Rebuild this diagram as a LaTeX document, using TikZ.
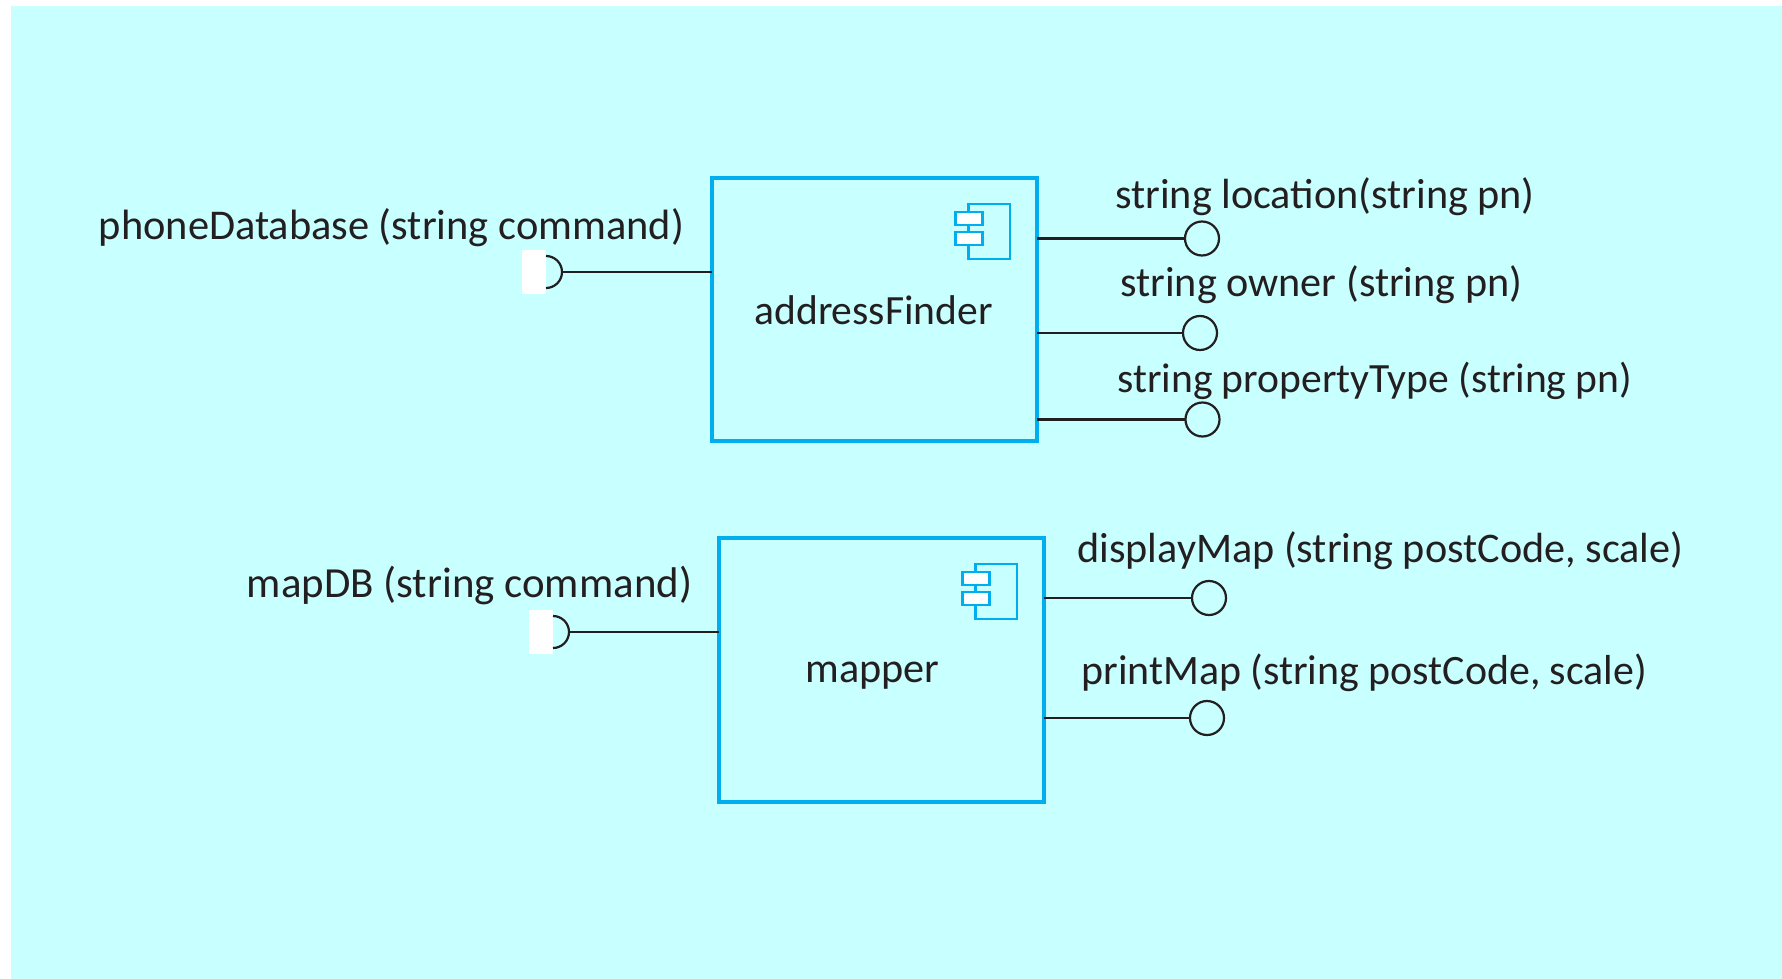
\documentclass[tikz,border=0pt]{standalone}
\usepackage{fontspec}
\setmainfont{Carlito}
\definecolor{bgc}{HTML}{C8FFFF}
\definecolor{boxc}{HTML}{00AEEF}
\definecolor{ink}{HTML}{231F20}
\tikzset{
  comp/.style={draw=boxc,line width=2.2pt,rectangle,inner sep=0pt,outer sep=0pt,anchor=north west},
  lab/.style={anchor=base west,inner sep=0pt,text=ink,font=\fontsize{#1}{25}\selectfont},
  lab/.default=21.1,
  prov/.style={circle,draw=ink,line width=1.1pt,minimum size=17pt,inner sep=0pt,outer sep=0pt},
  conn/.style={draw=ink,line width=1.1pt},
  sock/.style={rectangle,fill=white,minimum width=12pt,minimum height=22pt,inner sep=0pt},
  sockarc/.style={draw=ink,line width=1.1pt},
  icon/.style={draw=boxc,line width=1.1pt},
  iconbar/.style={draw=boxc,fill=white,line width=1.1pt,rectangle,minimum width=13.5pt,minimum height=6.5pt,inner sep=0pt}
}
\newcommand{\compicon}[2]{%
  \draw[icon] (#1+968.5,#2+204) rectangle (#1+1010,#2+259);
  \node[iconbar] at (#1+969,#2+218.3) {};
  \node[iconbar] at (#1+969,#2+238.3) {};
}
\begin{document}
\begin{tikzpicture}[x=0.5pt,y=-0.5pt]
\useasboundingbox (0,0) rectangle (1782,979);
\fill[bgc] (11,6) rectangle (1782,979);
% addressFinder
\node[comp,minimum width=162.5pt,minimum height=131.5pt] (af) at (712,178) {};
\compicon{0}{0}
\node[lab=20.8] (aft) at (754,324) {addressFinder};
\node[sock] (s1) at (534,272) {};
\draw[sockarc] (546,256) arc[start angle=-90,end angle=90,radius=16];
\coordinate (s1c) at (562,272);
\draw[conn] (s1c) -- (s1c -| af.west);
\node[lab=21.2] (t1) at (98.5,239) {phoneDatabase (string command)};
\node[prov] (p1) at (1202,238.5) {};
\node[prov] (p2) at (1200,333) {};
\node[prov] (p3) at (1202.5,419.5) {};
\draw[conn] (p1.west -| af.east) -- (p1.west);
\draw[conn] (p2.west -| af.east) -- (p2.west);
\draw[conn] (p3.west -| af.east) -- (p3.west);
\node[lab] (t2) at (1115,208) {string location(string pn)};
\node[lab] (t3) at (1120,296) {string owner (string pn)};
\node[lab=20.8] (t4) at (1117,392) {string propertyType (string pn)};
% mapper
\node[comp,minimum width=162.5pt,minimum height=132pt] (mp) at (719,538) {};
\compicon{7}{360}
\node[lab] (mpt) at (805,682) {mapper};
\node[sock] (s2) at (541,632) {};
\draw[sockarc] (553,616) arc[start angle=-90,end angle=90,radius=16];
\coordinate (s2c) at (569,632);
\draw[conn] (s2c) -- (s2c -| mp.west);
\node[lab=21.45] (t5) at (246.5,597) {mapDB (string command)};
\node[prov] (p4) at (1209,598) {};
\node[prov] (p5) at (1207,718) {};
\draw[conn] (p4.west -| mp.east) -- (p4.west);
\draw[conn] (p5.west -| mp.east) -- (p5.west);
\node[lab] (t6) at (1077,562) {displayMap (string postCode, scale)};
\node[lab=20.95] (t7) at (1081,684) {printMap (string postCode, scale)};
\end{tikzpicture}
\end{document}
